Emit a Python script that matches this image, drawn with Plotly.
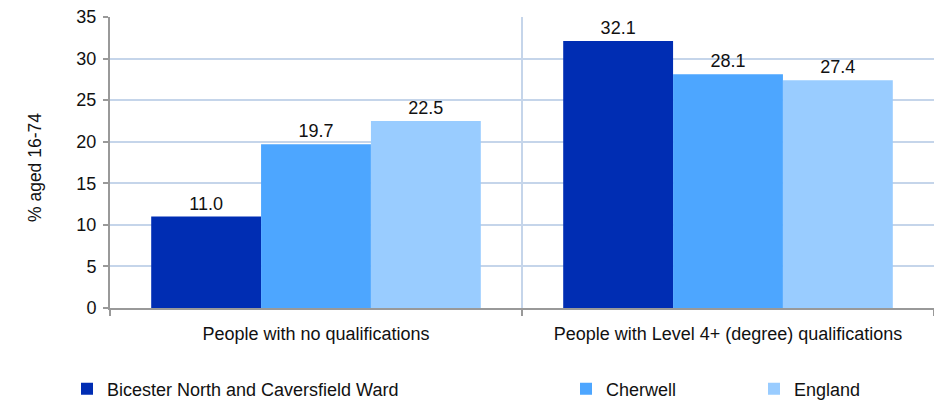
import plotly.graph_objects as go

categories = ["People with no qualifications", "People with Level 4+ (degree) qualifications"]
series_names = ["Bicester North and Caversfield Ward", "Cherwell", "England"]
bicester = [11.0, 32.1]
cherwell = [19.7, 28.1]
england = [22.5, 27.4]
y_ticks = [0, 5, 10, 15, 20, 25, 30, 35]
y_title = "% aged 16-74"

colors = ["#002DB3", "#4DA6FF", "#99CCFF"]
font_family = "Liberation Sans, Arial, sans-serif"
text_color = "#111111"

fig = go.Figure()
legend_ids = ["legend", "legend2", "legend3"]
for name, vals, col, lg in zip(series_names, [bicester, cherwell, england], colors, legend_ids):
    fig.add_trace(go.Bar(
        x=categories, y=vals, name=name, marker_color=col, marker_line_width=0,
        text=[f"{v:.1f}" for v in vals], textposition="outside",
        textfont=dict(size=18, color=text_color, family=font_family),
        cliponaxis=False, legend=lg, showlegend=True,
    ))

# each legend entry is placed on its own, spread along the bottom
legend_x = [67 / 934, 566 / 934, 754 / 934]
legend_common = dict(orientation="h", xref="container", yref="container", y=12 / 401,
                     yanchor="middle", xanchor="left",
                     font=dict(size=18, color=text_color, family=font_family),
                     bgcolor="rgba(0,0,0,0)", itemwidth=30, visible=True)
layout_legends = {lg: dict(legend_common, x=lx) for lg, lx in zip(legend_ids, legend_x)}
layout_legends["legend"].pop("visible")

fig.update_layout(
    width=934, height=401,
    margin=dict(l=110, r=0, t=17, b=93),
    plot_bgcolor="white", paper_bgcolor="white",
    barmode="group", bargap=0.2, bargroupgap=0,
    showlegend=True,
    font=dict(family=font_family, color=text_color),
    **layout_legends,
)
fig.add_annotation(
    text=y_title, textangle=-90, showarrow=False,
    xref="paper", yref="paper", x=-(110 - 35) / 824, y=(308 - 168) / 291,
    xanchor="center", yanchor="middle",
    font=dict(size=17.5, color=text_color, family=font_family),
)
fig.update_xaxes(
    tickson="boundaries", showgrid=True, gridcolor="#C5D5EA", gridwidth=1.5,
    showline=True, linecolor="#999999", linewidth=2,
    ticks="outside", ticklen=6, tickcolor="#999999", tickwidth=2,
    tickfont=dict(size=18, color=text_color), ticklabelstandoff=8,
)
fig.update_yaxes(
    range=[0, 35], tickvals=y_ticks, showgrid=True, gridcolor="#C5D5EA", gridwidth=1.5,
    showline=True, linecolor="#999999", linewidth=2, zeroline=False,
    ticks="outside", ticklen=5, tickcolor="#999999", tickwidth=2,
    tickfont=dict(size=18, color=text_color), ticklabelstandoff=3,
)

fig.write_html("out.html")
